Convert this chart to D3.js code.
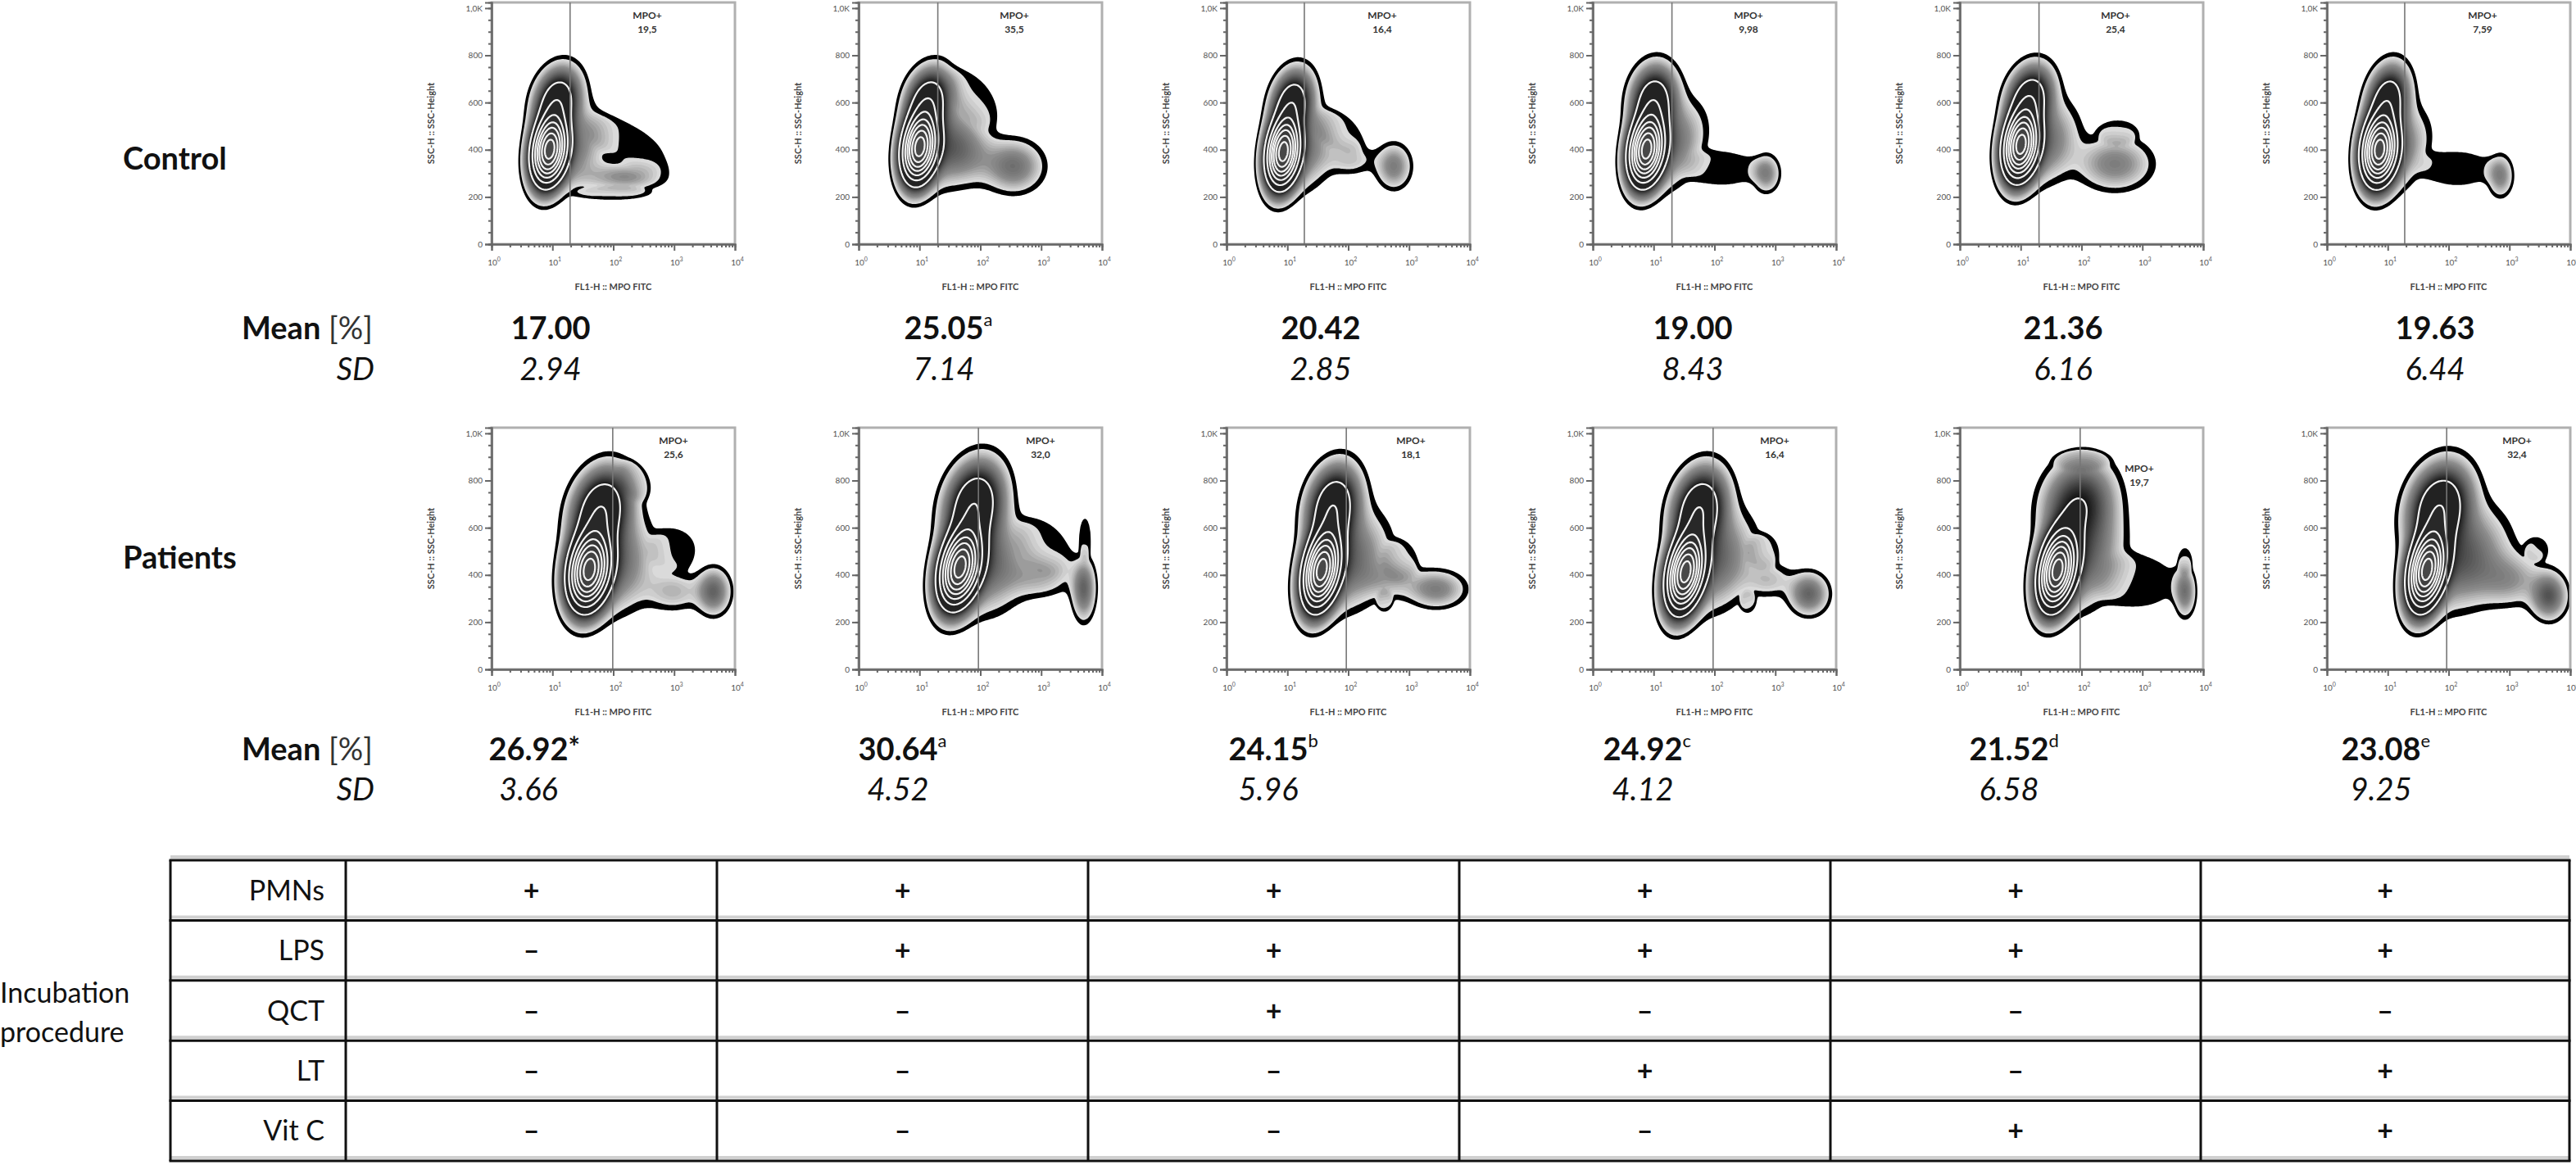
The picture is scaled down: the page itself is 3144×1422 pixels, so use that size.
<!DOCTYPE html>
<html>
<head>
<meta charset="utf-8">
<script src="https://cdn.jsdelivr.net/npm/d3@7"></script>
<style>
  body { margin: 0; background: #fff; }
  svg { display: block; }
  text { font-family: Lato, "Open Sans", sans-serif; }
</style>
</head>
<body>
<svg id="fig" width="3144" height="1422"></svg>
<script>
// ---- data ----
const controlMeans = ['17.00', '25.05', '20.42', '19.00', '21.36', '19.63'];
const controlMarks = ['', 'a', '', '', '', ''];
const controlSD = ['2.94', '7.14', '2.85', '8.43', '6.16', '6.44'];
const patientMeans = ['26.92', '30.64', '24.15', '24.92', '21.52', '23.08'];
const patientMarks = ['*', 'a', 'b', 'c', 'd', 'e'];
const patientSD = ['3.66', '4.52', '5.96', '4.12', '6.58', '9.25'];

const controlMPO = ['19,5', '35,5', '16,4', '9,98', '25,4', '7,59'];
const patientMPO = ['25,6', '32,0', '18,1', '16,4', '19,7', '32,4'];
const controlGate = [19.5, 20, 19, 20, 20, 19];
const patientGate = [98, 93, 93, 95, 95, 93];

const rowNames = ['PMNs', 'LPS', 'QCT', 'LT', 'Vit C'];
const signs = [
  ['+', '+', '+', '+', '+', '+'],
  ['–', '+', '+', '+', '+', '+'],
  ['–', '–', '+', '–', '–', '–'],
  ['–', '–', '–', '+', '–', '+'],
  ['–', '–', '–', '–', '+', '+']
];

const yTicks = [0, 200, 400, 600, 800, 1000];
const yTickLabels = ['0', '200', '400', '600', '800', '1,0K'];
const xTicks = [1, 10, 100, 1000, 10000];
const xTickExp = ['0', '1', '2', '3', '4'];

// event populations:
// [log10 FL1, SSC, sd log, sd SSC, weight, correlation, shape (1 = gaussian, 3 = sparse flat cloud)]
const controlPops = [
  [[0.95, 400, 0.17, 85, 1, 0.2], [1.08, 610, 0.22, 80, 0.22, 0.2], [1.35, 410, 0.33, 105, 0.06, 0.2],
   [2.2, 285, 0.42, 38, 0.05, 0], [2.25, 430, 0.5, 85, 0.016, -0.6, 3], [2.0, 215, 0.45, 22, 0.016, 0, 3]],
  [[1.0, 410, 0.17, 85, 1, 0.2], [1.15, 610, 0.22, 80, 0.22, 0.2], [1.4, 420, 0.33, 105, 0.07, 0.2],
   [2.55, 330, 0.3, 68, 0.07, 0], [1.8, 380, 0.3, 80, 0.04, 0], [1.9, 620, 0.3, 90, 0.016, -0.5, 3]],
  [[0.93, 390, 0.16, 85, 1, 0.2], [1.08, 600, 0.2, 80, 0.22, 0.2], [1.3, 400, 0.3, 105, 0.06, 0.2],
   [2.75, 330, 0.18, 60, 0.06, 0], [2.05, 360, 0.25, 45, 0.03, 0], [1.85, 480, 0.3, 65, 0.016, -0.4, 3]],
  [[0.88, 400, 0.17, 85, 1, 0.2], [1.0, 610, 0.22, 85, 0.22, 0.1], [1.3, 420, 0.33, 110, 0.07, 0.3],
   [2.85, 300, 0.14, 50, 0.06, 0], [2.15, 320, 0.45, 60, 0.016, 0, 3]],
  [[1.0, 420, 0.17, 85, 1, 0.2], [1.15, 620, 0.22, 80, 0.22, 0.2], [1.4, 430, 0.33, 105, 0.07, 0.2],
   [2.55, 340, 0.38, 70, 0.06, 0], [2.6, 475, 0.25, 40, 0.016, 0, 3]],
  [[0.86, 400, 0.17, 85, 1, 0.15], [1.0, 610, 0.2, 85, 0.22, 0.2], [1.2, 400, 0.3, 105, 0.06, 0.3],
   [2.85, 290, 0.13, 55, 0.06, 0], [2.15, 320, 0.45, 62, 0.016, 0, 3]]
];
const patientPops = [
  [[1.6, 420, 0.2, 95, 1, 0.2], [1.8, 680, 0.28, 100, 0.25, 0.2], [2.0, 450, 0.4, 125, 0.08, 0.1],
   [3.65, 330, 0.17, 60, 0.08, 0], [3.0, 330, 0.3, 55, 0.035, 0], [3.0, 510, 0.3, 70, 0.016, 0, 3],
   [2.35, 800, 0.2, 60, 0.016, -0.3, 3]],
  [[1.66, 430, 0.2, 95, 1, 0.3], [1.9, 700, 0.28, 105, 0.25, 0.2], [2.1, 450, 0.4, 125, 0.08, 0.1],
   [3.7, 340, 0.12, 80, 0.08, 0], [3.0, 390, 0.35, 55, 0.035, 0], [3.05, 520, 0.35, 90, 0.016, -0.3, 3],
   [3.72, 560, 0.08, 70, 0.016, 0, 3]],
  [[1.56, 420, 0.18, 95, 1, 0.3], [1.75, 690, 0.25, 100, 0.25, 0.2], [2.0, 460, 0.4, 125, 0.08, 0.2],
   [3.45, 340, 0.3, 50, 0.06, 0], [2.7, 380, 0.3, 50, 0.03, 0], [2.85, 460, 0.22, 65, 0.016, 0, 3],
   [2.6, 290, 0.1, 35, 0.016, 0, 3]],
  [[1.52, 410, 0.18, 95, 1, 0.3], [1.75, 680, 0.26, 100, 0.25, 0.2], [2.0, 460, 0.4, 125, 0.08, 0.2],
   [3.55, 320, 0.2, 55, 0.08, 0], [2.9, 380, 0.25, 50, 0.03, 0], [2.8, 500, 0.2, 55, 0.016, 0, 3],
   [2.55, 285, 0.1, 35, 0.016, 0, 3]],
  [[1.6, 420, 0.18, 95, 1, 0.3], [1.95, 700, 0.35, 110, 0.14, 0.1], [2.0, 460, 0.4, 125, 0.08, 0.2],
   [3.7, 330, 0.11, 65, 0.07, 0], [2.0, 885, 0.32, 32, 0.016, 0, 3], [2.95, 370, 0.5, 90, 0.016, 0, 3],
   [3.7, 460, 0.09, 45, 0.016, 0, 3]],
  [[1.64, 420, 0.18, 95, 1, 0.3], [1.85, 690, 0.3, 105, 0.25, 0.2], [2.2, 470, 0.45, 125, 0.09, 0.2],
   [3.65, 310, 0.18, 60, 0.09, 0], [3.0, 380, 0.35, 70, 0.045, 0], [3.45, 510, 0.15, 40, 0.016, 0, 3]]
];

// ---- layout ----
const svg = d3.select('#fig');
const plotLeft = [600, 1048, 1497, 1944, 2392, 2840];
const plotW = 297, plotH = 295;
const controlTop = 3, patientTop = 522;
const controlTextX = [672, 1152, 1612, 2066, 2518, 2972];
const patientTextX = [645, 1096, 1548, 2005, 2452, 2906];
const controlLabel = [190, 20];
const patientLabel = [[222, 20], [222, 20], [225, 20], [222, 20], [219, 54], [232, 20]];

const x = d3.scaleLog().domain([1, 1e4]).range([0, plotW]);
const y = d3.scaleLinear().domain([0, 1024]).range([plotH, 0]);

function density(pop, lx, s) {
  let v = 0;
  for (const [cx, cy, sx, sy, w, r, p = 1] of pop) {
    const dx = (lx - cx) / sx, dy = (s - cy) / sy;
    const q = (dx * dx - 2 * r * dx * dy + dy * dy) / (2 * (1 - r * r));
    v += w * Math.exp(-Math.pow(q, p));
  }
  return v;
}

// density levels
const t0 = 0.012, t1 = 0.02;
const ringLevels = [0.14, 0.26, 0.38, 0.5, 0.62, 0.76, 0.9];
const shadeLevels = d3.range(t1, ringLevels[0], 0.004);
const shade = d3.scaleLinear()
  .domain([t1, 0.045, ringLevels[0]])
  .range(['#dadada', '#8c8c8c', '#0e0e0e']);
const ringFill = d3.scaleLinear()
  .domain([ringLevels[0], ringLevels[ringLevels.length - 1]])
  .range(['#222', '#484848']);

let clipId = 0;
function drawPlot(left, top, pop, gateAt, mpo, label) {
  const g = svg.append('g').attr('transform', `translate(${left},${top})`);

  // density grid
  const cell = 1.5;
  const nx = Math.ceil(plotW / cell), ny = Math.ceil(plotH / cell);
  const values = new Float64Array(nx * ny);
  for (let j = 0; j < ny; j++) {
    for (let i = 0; i < nx; i++) {
      const lx = Math.log10(x.invert((i + 0.5) * cell));
      const s = y.invert((j + 0.5) * cell);
      values[j * nx + i] = density(pop, lx, s);
    }
  }
  const max = d3.max(values);
  for (let k = 0; k < values.length; k++) values[k] /= max;

  const contours = d3.contours().size([nx, ny]);
  const path = d3.geoPath(d3.geoIdentity().scale(cell));

  const id = 'clip' + (clipId++);
  g.append('clipPath').attr('id', id)
    .append('rect').attr('width', plotW).attr('height', plotH);
  const dens = g.append('g').attr('clip-path', `url(#${id})`);

  dens.append('path').attr('d', path(contours.contour(values, t0))).attr('fill', '#000');
  shadeLevels.forEach(t => {
    dens.append('path').attr('d', path(contours.contour(values, t))).attr('fill', shade(t));
  });
  ringLevels.forEach(t => {
    dens.append('path').attr('d', path(contours.contour(values, t)))
      .attr('fill', ringFill(t))
      .attr('stroke', '#f2f2f2')
      .attr('stroke-width', 2.2);
  });

  // frame
  g.append('rect').attr('width', plotW).attr('height', plotH)
    .attr('fill', 'none').attr('stroke', '#b0b0b0').attr('stroke-width', 3);

  // gate
  g.append('line')
    .attr('x1', x(gateAt)).attr('x2', x(gateAt))
    .attr('y1', 0).attr('y2', plotH)
    .attr('stroke', '#777').attr('stroke-width', 1.6);

  g.append('text').attr('x', label[0]).attr('y', label[1])
    .attr('text-anchor', 'middle').attr('font-size', 12).attr('font-weight', 700).attr('fill', '#333')
    .text('MPO+');
  g.append('text').attr('x', label[0]).attr('y', label[1] + 17)
    .attr('text-anchor', 'middle').attr('font-size', 12).attr('font-weight', 700).attr('fill', '#333')
    .text(mpo);

  // axes
  const minorX = [];
  for (let d = 0; d < 4; d++) for (let m = 2; m < 10; m++) minorX.push(m * Math.pow(10, d));
  const xa = g.append('g').attr('transform', `translate(0,${plotH})`);
  xa.call(d3.axisBottom(x).tickValues(minorX).tickSize(4).tickFormat(''));
  xa.call(g2 => g2.append('g').call(d3.axisBottom(x).tickValues(xTicks).tickSize(8).tickFormat('')));
  xa.selectAll('path, line').attr('stroke', '#666').attr('stroke-width', 2);

  const minorY = d3.range(0, 1001, 50);
  const ya = g.append('g');
  ya.call(d3.axisLeft(y).tickValues(minorY).tickSize(4).tickFormat(''));
  ya.call(g2 => g2.append('g').call(d3.axisLeft(y).tickValues(yTicks).tickSize(8)
    .tickFormat((d, i) => yTickLabels[i])));
  ya.selectAll('path, line').attr('stroke', '#666').attr('stroke-width', 2);
  ya.selectAll('text').attr('font-size', 10).attr('fill', '#555').attr('font-family', 'Lato, sans-serif');

  const xl = g.append('g').selectAll('text').data(xTicks).join('text')
    .attr('x', d => x(d) + 3).attr('y', plotH + 26)
    .attr('text-anchor', 'middle').attr('font-size', 10).attr('fill', '#555');
  xl.append('tspan').text('10');
  xl.append('tspan').attr('dy', -5).attr('font-size', 7).text((d, i) => xTickExp[i]);

  g.append('text')
    .attr('x', plotW / 2).attr('y', plotH + 56)
    .attr('text-anchor', 'middle').attr('font-size', 11).attr('font-weight', 700).attr('fill', '#444')
    .text('FL1-H :: MPO FITC');
  g.append('text')
    .attr('transform', `translate(-70,${plotH / 2}) rotate(-90)`)
    .attr('text-anchor', 'middle').attr('font-size', 11).attr('font-weight', 700).attr('fill', '#444')
    .text('SSC-H :: SSC-Height');
}

controlPops.forEach((pop, i) =>
  drawPlot(plotLeft[i], controlTop, pop, controlGate[i], controlMPO[i], controlLabel));
patientPops.forEach((pop, i) =>
  drawPlot(plotLeft[i], patientTop, pop, patientGate[i], patientMPO[i], patientLabel[i]));

// row titles and statistics
function valueText(cx, baseline, value, mark, italic) {
  const t = svg.append('text').attr('y', baseline).attr('font-size', 38)
    .attr('font-weight', italic ? 400 : 700)
    .attr('font-style', italic ? 'italic' : 'normal')
    .attr('fill', '#111');
  const main = t.append('tspan').text(value);
  const w = main.node().getComputedTextLength();
  t.attr('x', cx - w / 2);
  if (mark) {
    t.append('tspan').attr('font-size', mark === '*' ? 34 : 22)
      .attr('dy', mark === '*' ? -4 : -16).attr('font-weight', mark === '*' ? 700 : 400)
      .text(mark);
  }
}

function statsBlock(meanBase, sdBase, means, marks, sds, xs) {
  const lbl = svg.append('text').attr('x', 295).attr('y', meanBase).attr('font-size', 38).attr('fill', '#111');
  lbl.append('tspan').attr('font-weight', 700).text('Mean');
  lbl.append('tspan').attr('font-weight', 400).attr('fill', '#333').text(' [%]');
  svg.append('text').attr('x', 457).attr('y', sdBase).attr('text-anchor', 'end')
    .attr('font-size', 38).attr('font-style', 'italic').attr('fill', '#111').text('SD');
  means.forEach((m, i) => valueText(xs[i], meanBase, m, marks[i], false));
  sds.forEach((s, i) => valueText(xs[i], sdBase, s, '', true));
}

svg.append('text').attr('x', 150).attr('y', 207).attr('font-size', 38).attr('font-weight', 700)
  .attr('fill', '#111').text('Control');
svg.append('text').attr('x', 150).attr('y', 694).attr('font-size', 38).attr('font-weight', 700)
  .attr('fill', '#111').text('Patients');

statsBlock(414, 464, controlMeans, controlMarks, controlSD, controlTextX);
statsBlock(928, 977, patientMeans, patientMarks, patientSD, patientTextX);

// incubation table
const colX = [208, 422, 875, 1328, 1781, 2234, 2686, 3136];
const tableTop = 1050, rowH = 73.4;
const rowY = d3.range(rowNames.length + 1).map(i => tableTop + i * rowH);
const table = svg.append('g');

rowY.forEach(yy => {
  table.append('line').attr('x1', colX[0]).attr('x2', colX[colX.length - 1])
    .attr('y1', yy - 4).attr('y2', yy - 4).attr('stroke', '#d0d0d0').attr('stroke-width', 4);
});
rowY.forEach(yy => {
  table.append('line').attr('x1', colX[0] - 1.5).attr('x2', colX[colX.length - 1] + 1.5)
    .attr('y1', yy).attr('y2', yy).attr('stroke', '#111').attr('stroke-width', 3);
});
colX.forEach(xx => {
  table.append('line').attr('x1', xx).attr('x2', xx)
    .attr('y1', rowY[0]).attr('y2', rowY[rowY.length - 1]).attr('stroke', '#111').attr('stroke-width', 3);
});

rowNames.forEach((name, r) => {
  const cy = tableTop + (r + 0.5) * rowH;
  table.append('text').attr('x', 396).attr('y', cy + 12).attr('text-anchor', 'end')
    .attr('font-size', 34).attr('fill', '#111').text(name);
  signs[r].forEach((s, c) => {
    table.append('text').attr('x', (colX[c + 1] + colX[c + 2]) / 2).attr('y', cy + 12)
      .attr('text-anchor', 'middle').attr('font-size', 34).attr('font-weight', 700)
      .attr('fill', '#111').text(s);
  });
});

svg.append('text').attr('x', 0).attr('y', 1224).attr('font-size', 34).attr('fill', '#111').text('Incubation');
svg.append('text').attr('x', 0).attr('y', 1272).attr('font-size', 34).attr('fill', '#111').text('procedure');
</script>
</body>
</html>
